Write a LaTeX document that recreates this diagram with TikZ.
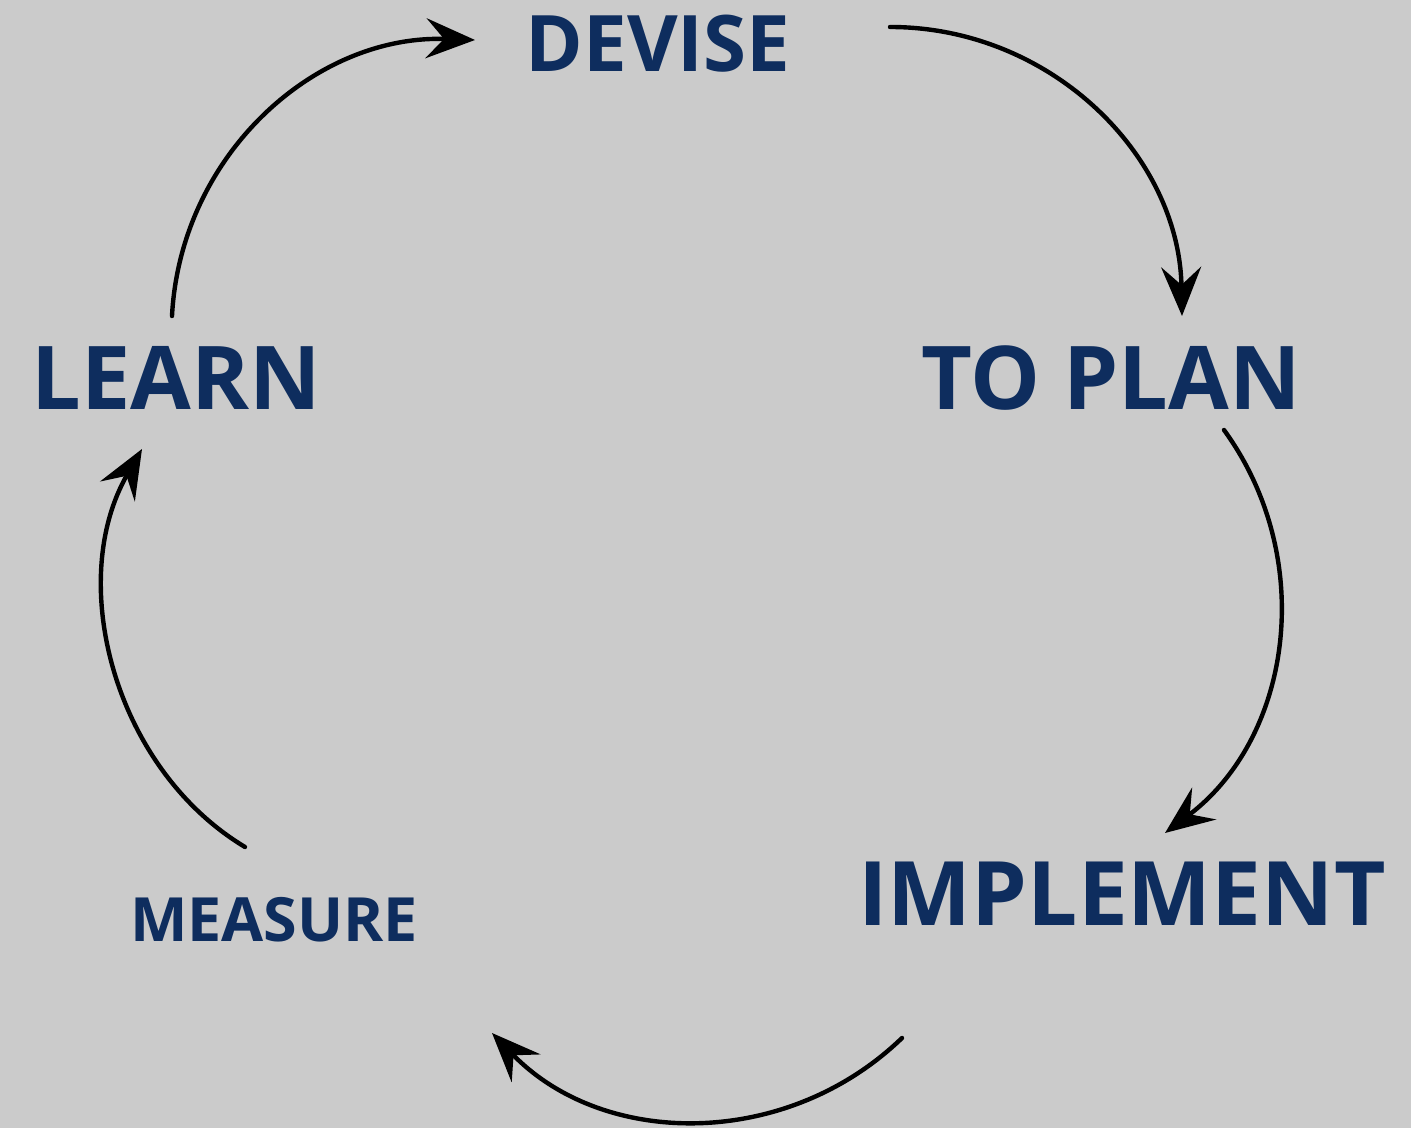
\documentclass[tikz,border=0pt]{standalone}
\usepackage{fontspec}
\setmainfont{Open Sans}
\usepackage{tikz}
\usetikzlibrary{arrows.meta}
\definecolor{bggray}{HTML}{CBCBCB}
\definecolor{stagenavy}{HTML}{0E2D5E}
\begin{document}
\begin{tikzpicture}[x=1pt, y=1pt,
    stage/.style={text=stagenavy, anchor=base, inner sep=0pt},
    cycle/.style={line width=4.4pt, line cap=round, -{Stealth[length=49pt, width=40pt, inset=18pt]}}]
                    \useasboundingbox (0,0) rectangle (1411,1128);
                    \fill[bggray] (0,0) rectangle (1411,1128);
                    \node[stage, font=\fontsize{78}{80}\selectfont\bfseries] (devise) at (658,1056) {DEVISE};
                    \node[stage, font=\fontsize{88}{90}\selectfont\bfseries] (plan) at (1111,718) {TO PLAN};
                    \node[stage, font=\fontsize{89}{90}\selectfont\bfseries] (implement) at (1122,203) {IMPLEMENT};
                    \node[stage, font=\fontsize{61}{64}\selectfont\bfseries] (measure) at (274,187) {MEASURE};
                    \node[stage, font=\fontsize{88}{90}\selectfont\bfseries] (learn) at (176,718) {LEARN};
                    
                    \draw[cycle] ([shift={(-4,94)}]learn.base) to[out=87, in=178] ([shift={(-183,32)}]devise.base);
                    \draw[cycle] ([shift={(232,45)}]devise.base) to[out=0, in=91] ([shift={(71,94)}]plan.base);
                    \draw[cycle] ([shift={(113,-20)}]plan.base) to[out=-54, in=37] ([shift={(43,92)}]implement.base);
                    \draw[cycle] ([shift={(-220,-113)}]implement.base) to[out=224, in=-46] ([shift={(218,-92)}]measure.base);
                    \draw[cycle] ([shift={(-29,94)}]measure.base) to[out=149, in=-120, looseness=0.95] ([shift={(-34,-39)}]learn.base);
                \end{tikzpicture}
\end{document}
